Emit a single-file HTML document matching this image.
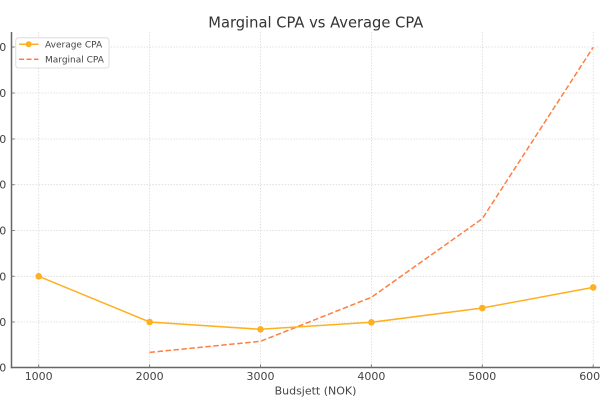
<!DOCTYPE html>
<html><head><meta charset="utf-8"><style>
html,body{margin:0;padding:0;background:#fff;}
svg{display:block;}
text{font-family:"DejaVu Sans","Liberation Sans",sans-serif;}
</style></head><body>
<svg width="600" height="403" viewBox="0 0 600 403" xmlns="http://www.w3.org/2000/svg">
<rect width="600" height="403" fill="#fff"/>
<!-- grid -->
<g stroke="#d9d9d9" stroke-width="0.8" stroke-dasharray="1.5,1.5" fill="none">
<line x1="11.5" y1="322" x2="600" y2="322"/>
<line x1="11.5" y1="276.3" x2="600" y2="276.3"/>
<line x1="11.5" y1="230.5" x2="600" y2="230.5"/>
<line x1="11.5" y1="184.7" x2="600" y2="184.7"/>
<line x1="11.5" y1="139" x2="600" y2="139"/>
<line x1="11.5" y1="93" x2="600" y2="93"/>
<line x1="11.5" y1="47" x2="600" y2="47"/>
<line x1="38.7" y1="32" x2="38.7" y2="367.5"/>
<line x1="149.6" y1="32" x2="149.6" y2="367.5"/>
<line x1="260.5" y1="32" x2="260.5" y2="367.5"/>
<line x1="371.4" y1="32" x2="371.4" y2="367.5"/>
<line x1="482.3" y1="32" x2="482.3" y2="367.5"/>
<line x1="593.2" y1="32" x2="593.2" y2="367.5"/>
</g>
<!-- spines -->
<g stroke="#666" stroke-width="1.5" fill="none">
<line x1="11.5" y1="32" x2="11.5" y2="368.2"/>
<line x1="10.8" y1="367.5" x2="600" y2="367.5"/>
</g>
<!-- ticks -->
<g stroke="#777" stroke-width="1" fill="none">
<line x1="11.5" y1="322" x2="14.5" y2="322"/>
<line x1="11.5" y1="276.3" x2="14.5" y2="276.3"/>
<line x1="11.5" y1="230.5" x2="14.5" y2="230.5"/>
<line x1="11.5" y1="184.7" x2="14.5" y2="184.7"/>
<line x1="11.5" y1="139" x2="14.5" y2="139"/>
<line x1="11.5" y1="93" x2="14.5" y2="93"/>
<line x1="11.5" y1="47" x2="14.5" y2="47"/>
<line x1="38.7" y1="364.5" x2="38.7" y2="367.5"/>
<line x1="149.6" y1="364.5" x2="149.6" y2="367.5"/>
<line x1="260.5" y1="364.5" x2="260.5" y2="367.5"/>
<line x1="371.4" y1="364.5" x2="371.4" y2="367.5"/>
<line x1="482.3" y1="364.5" x2="482.3" y2="367.5"/>
<line x1="593.2" y1="364.5" x2="593.2" y2="367.5"/>
</g>
<!-- y tick labels (clipped) -->
<g font-size="11" fill="#444" text-anchor="end">
<text x="6.2" y="371.6">0</text>
<text x="6.2" y="326">10</text>
<text x="6.2" y="280.3">20</text>
<text x="6.2" y="234.5">30</text>
<text x="6.2" y="188.7">40</text>
<text x="6.2" y="143">50</text>
<text x="6.2" y="97">60</text>
<text x="6.2" y="51">70</text>
</g>
<!-- x tick labels -->
<g font-size="11" fill="#444" text-anchor="middle">
<text x="38.7" y="379.8">1000</text>
<text x="149.6" y="379.8">2000</text>
<text x="260.5" y="379.8">3000</text>
<text x="371.4" y="379.8">4000</text>
<text x="482.3" y="379.8">5000</text>
<text x="593.2" y="379.8">6000</text>
</g>
<text x="315.5" y="394.5" font-size="11" fill="#444" text-anchor="middle">Budsjett (NOK)</text>
<text x="315.8" y="27.3" font-size="14.7" fill="#333" text-anchor="middle">Marginal CPA vs Average CPA</text>
<!-- series -->
<polyline points="149.6,352.4 260.5,341.3 371.4,297.3 482.3,218.7 593.2,47.3" fill="none" stroke="#FF7F41" stroke-width="1.5" stroke-dasharray="5.5,2.5"/>
<polyline points="38.7,276.3 149.6,322 260.5,329.3 371.4,322.3 482.3,308 593.2,287.4" fill="none" stroke="#FFB020" stroke-width="1.5"/>
<g fill="#FFB020">
<circle cx="38.7" cy="276.3" r="3.3"/>
<circle cx="149.6" cy="322" r="3.3"/>
<circle cx="260.5" cy="329.3" r="3.3"/>
<circle cx="371.4" cy="322.3" r="3.3"/>
<circle cx="482.3" cy="308" r="3.3"/>
<circle cx="593.2" cy="287.4" r="3.3"/>
</g>
<!-- legend -->
<rect x="15.8" y="37.8" width="93.2" height="30.2" rx="2.5" fill="#fff" fill-opacity="0.85" stroke="#d6d6d6" stroke-width="0.8"/>
<line x1="19" y1="44.3" x2="38.5" y2="44.3" stroke="#FFB020" stroke-width="1.5"/>
<circle cx="28.7" cy="44.3" r="3" fill="#FFB020"/>
<line x1="19" y1="59.3" x2="38.5" y2="59.3" stroke="#FF7F41" stroke-width="1.5" stroke-dasharray="5,2.5"/>
<g font-size="9" fill="#444">
<text x="45" y="47.5">Average CPA</text>
<text x="45" y="62.5">Marginal CPA</text>
</g>
</svg>
</body></html>
